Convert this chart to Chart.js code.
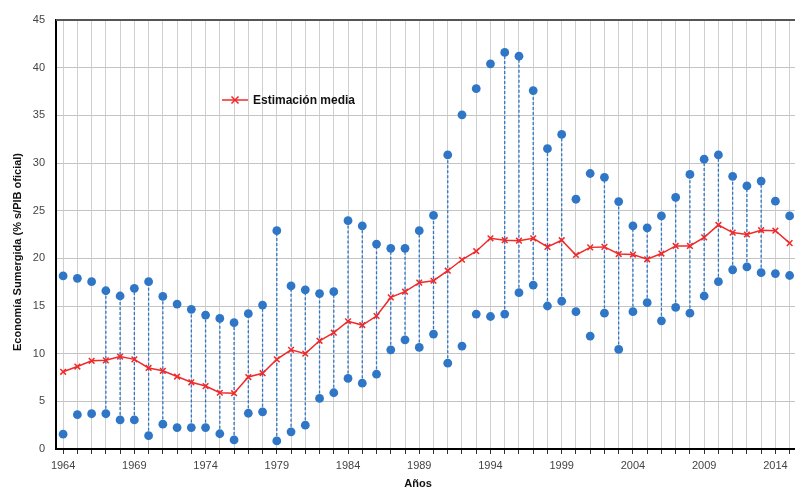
<!DOCTYPE html>
<html>
<head>
<meta charset="utf-8">
<script src="https://cdn.jsdelivr.net/npm/chart.js@4"></script>
<style>
  html, body { margin: 0; padding: 0; background: #fff; overflow: hidden; }
  #wrap { width: 795px; height: 490px; overflow: hidden; }
</style>
</head>
<body>
<div id="wrap"><canvas id="chart" width="820" height="490"></canvas></div>
<script>
// años de la serie
const anios = [];
for (let a = 1964; a <= 2015; a++) anios.push(a);

// estimación media (% s/PIB oficial)
const media = [
  8.1, 8.65, 9.25, 9.3, 9.7, 9.4, 8.5, 8.2, 7.6, 7.0,
  6.6, 5.9, 5.85, 7.55, 7.95, 9.4, 10.4, 10.0, 11.35, 12.2,
  13.4, 13.0, 13.95, 15.9, 16.5, 17.45, 17.65, 18.7, 19.85, 20.75,
  22.1, 21.9, 21.85, 22.1, 21.2, 21.9, 20.35, 21.15, 21.2, 20.45,
  20.4, 19.9, 20.5, 21.3, 21.3, 22.2, 23.5, 22.7, 22.5, 22.95,
  22.9, 21.6
];

// estimación máxima
const superior = [
  18.15, 17.9, 17.55, 16.6, 16.05, 16.85, 17.55, 16.0, 15.2, 14.65,
  14.05, 13.7, 13.25, 14.2, 15.1, 22.9, 17.1, 16.7, 16.3, 16.5,
  23.95, 23.4, 21.5, 21.05, 21.05, 22.9, 24.5, 30.85, 35.05, 37.8,
  40.4, 41.6, 41.2, 37.6, 31.5, 33.0, 26.2, 28.9, 28.5, 25.95,
  23.4, 23.2, 24.45, 26.4, 28.8, 30.4, 30.85, 28.6, 27.6, 28.1,
  26.0, 24.45
];

// estimación mínima
const inferior = [
  1.55, 3.6, 3.7, 3.7, 3.05, 3.05, 1.4, 2.6, 2.25, 2.25,
  2.25, 1.6, 0.95, 3.75, 3.9, 0.85, 1.8, 2.5, 5.3, 5.9,
  7.4, 6.9, 7.85, 10.4, 11.45, 10.65, 12.05, 9.0, 10.8, 14.15,
  13.9, 14.15, 16.4, 17.2, 15.0, 15.5, 14.4, 11.85, 14.25, 10.45,
  14.4, 15.35, 13.45, 14.85, 14.25, 16.05, 17.55, 18.8, 19.1, 18.5,
  18.4, 18.2
];

// años en los que se une el rango con línea discontinua
const aniosConRango = [
  1967, 1968, 1969, 1970, 1971,
  1973, 1974, 1975, 1976, 1977, 1978, 1979, 1980, 1981, 1982, 1983,
  1984, 1985, 1986, 1987, 1988, 1989, 1990, 1991,
  1995, 1996, 1997, 1998, 1999,
  2002, 2003, 2004, 2005, 2006, 2007, 2008, 2009, 2010, 2011, 2012, 2013
];

const yTicks = [0, 5, 10, 15, 20, 25, 30, 35, 40, 45];

const AZUL = '#2f77c6';
const ROJO = '#f02a2a';
const FUENTE = "'Liberation Sans', Arial, sans-serif";

const pts = arr => anios.map((a, i) => ({ x: a, y: arr[i] }));

// líneas discontinuas entre mínimo y máximo
const rangos = {
  id: 'rangos',
  beforeDatasetsDraw(chart) {
    const { ctx, scales: { x, y } } = chart;
    ctx.save();
    ctx.strokeStyle = AZUL;
    ctx.lineWidth = 1.3;
    ctx.setLineDash([3, 2]);
    aniosConRango.forEach(a => {
      const i = anios.indexOf(a);
      const px = x.getPixelForValue(a);
      ctx.beginPath();
      ctx.moveTo(px, y.getPixelForValue(inferior[i]));
      ctx.lineTo(px, y.getPixelForValue(superior[i]));
      ctx.stroke();
    });
    ctx.restore();
  }
};

// marco superior, títulos de ejes y leyenda dentro del área
const marco = {
  id: 'marco',
  afterDraw(chart) {
    const { ctx, chartArea: ca } = chart;
    ctx.save();
    ctx.strokeStyle = '#555';
    ctx.lineWidth = 2;
    ctx.beginPath();
    ctx.moveTo(ca.left, ca.top);
    ctx.lineTo(ca.right, ca.top);
    ctx.stroke();

    // títulos de ejes
    ctx.fillStyle = '#111';
    ctx.font = 'bold 11px ' + FUENTE;
    ctx.textAlign = 'center';
    ctx.textBaseline = 'middle';
    ctx.fillText('Años', 418, 484);
    ctx.save();
    ctx.translate(18, 252);
    ctx.rotate(-Math.PI / 2);
    ctx.fillText('Economía Sumergida (% s/PIB oficial)', 0, 0);
    ctx.restore();

    // leyenda
    const lx = ca.left + 166, ly = ca.top + 80;
    ctx.strokeStyle = ROJO;
    ctx.lineWidth = 1.5;
    ctx.beginPath();
    ctx.moveTo(lx, ly);
    ctx.lineTo(lx + 26, ly);
    ctx.stroke();
    const cx = lx + 13, r = 3.5;
    ctx.beginPath();
    ctx.moveTo(cx - r, ly - r); ctx.lineTo(cx + r, ly + r);
    ctx.moveTo(cx + r, ly - r); ctx.lineTo(cx - r, ly + r);
    ctx.stroke();
    ctx.fillStyle = '#111';
    ctx.font = 'bold 12px ' + FUENTE;
    ctx.textAlign = 'left';
    ctx.fillText('Estimación media', lx + 31, ly + 1);
    ctx.restore();
  }
};

new Chart(document.getElementById('chart'), {
  type: 'line',
  data: {
    datasets: [
      {
        label: 'Estimación media',
        data: pts(media),
        borderColor: ROJO,
        backgroundColor: ROJO,
        borderWidth: 1.5,
        pointStyle: 'crossRot',
        pointRadius: 4,
        pointBorderWidth: 1.5,
        tension: 0
      },
      {
        label: 'Máximo',
        data: pts(superior),
        showLine: false,
        pointStyle: 'circle',
        pointRadius: 4.4,
        pointBorderWidth: 0,
        backgroundColor: AZUL,
        borderColor: AZUL
      },
      {
        label: 'Mínimo',
        data: pts(inferior),
        showLine: false,
        pointStyle: 'circle',
        pointRadius: 4.4,
        pointBorderWidth: 0,
        backgroundColor: AZUL,
        borderColor: AZUL
      }
    ]
  },
  options: {
    responsive: false,
    animation: false,
    layout: { padding: { top: 20, right: 9, left: 0, bottom: 0 } },
    plugins: {
      legend: { display: false },
      tooltip: { enabled: false }
    },
    scales: {
      x: {
        type: 'linear',
        min: 1963.5,
        max: 2016.5,
        afterBuildTicks: scale => { scale.ticks = anios.map(a => ({ value: a })); },
        afterFit: scale => { scale.height = 41; },
        grid: { color: '#d0d0d0', lineWidth: 1, tickLength: 5, tickColor: '#333' },
        border: { color: '#000', width: 2 },
        ticks: {
          autoSkip: false,
          maxRotation: 0,
          padding: 5,
          color: '#444',
          font: { family: FUENTE, size: 11 },
          callback: v => ((v - 1964) % 5 === 0 ? String(v) : '')
        }
      },
      y: {
        min: 0,
        max: 45,
        afterBuildTicks: scale => { scale.ticks = yTicks.map(v => ({ value: v })); },
        afterFit: scale => { scale.width = 56; },
        grid: { color: '#c4c4c4', lineWidth: 1, drawTicks: false },
        border: { color: '#000', width: 2 },
        ticks: {
          padding: 11,
          color: '#444',
          font: { family: FUENTE, size: 11 }
        }
      }
    }
  },
  plugins: [rangos, marco]
});
</script>
</body>
</html>
